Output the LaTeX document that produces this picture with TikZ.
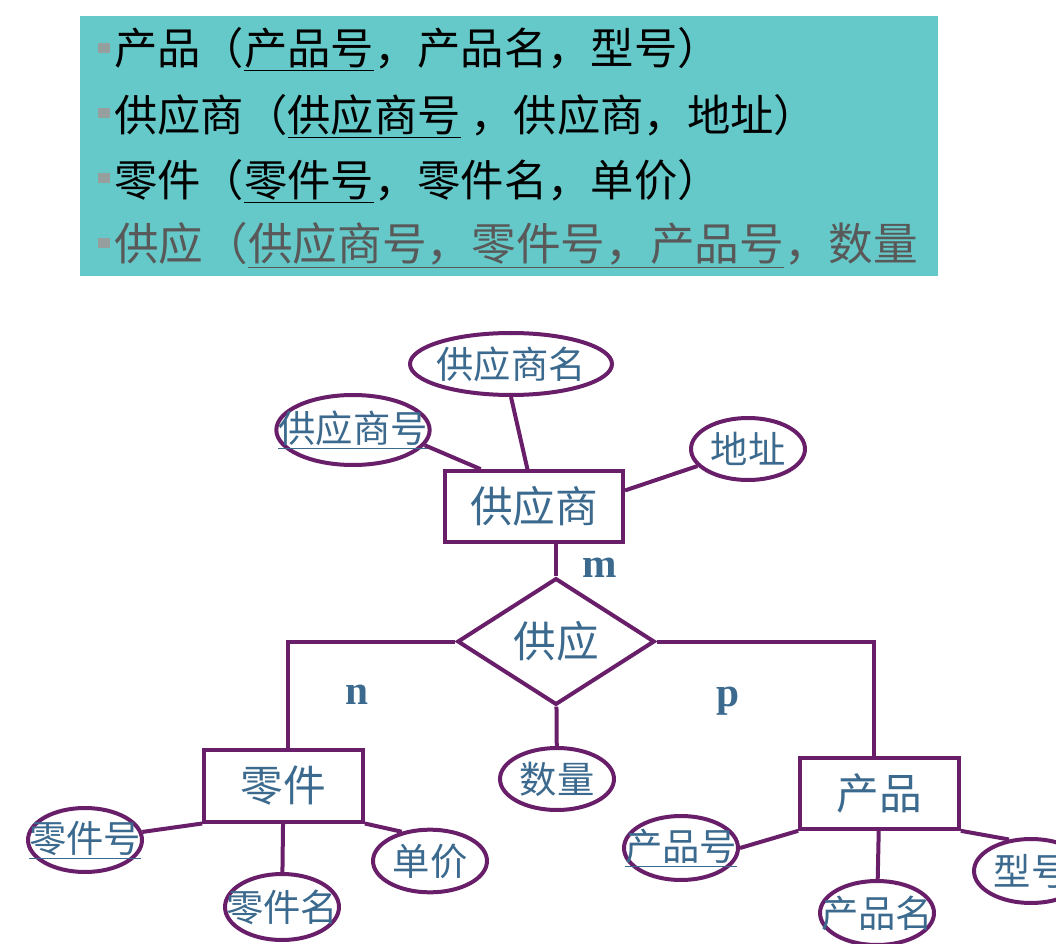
\documentclass[tikz,border=0pt]{standalone}
\usepackage{fontspec}
\setmainfont{Liberation Serif}
\newfontfamily\cjk{Noto Sans CJK SC}
\usepackage{tikz}
\usetikzlibrary{shapes.geometric, positioning}
\definecolor{erpurple}{RGB}{104, 30, 104}
\definecolor{erblue}{RGB}{59, 106, 142}
\definecolor{schemateal}{RGB}{102, 201, 201}
\definecolor{bulletgray}{RGB}{150, 158, 158}

\begin{document}
\begin{tikzpicture}[
    x=0.75pt, y=-0.75pt,
    entity/.style={rectangle, draw=erpurple, line width=3pt, fill=white, inner sep=0pt, minimum width=119pt, minimum height=54pt, font=\cjk\fontsize{32}{36}\selectfont, text=erblue},
    relation/.style={diamond, draw=erpurple, line width=3pt, fill=white, inner sep=0pt, minimum width=148pt, minimum height=95pt},
    attr/.style={ellipse, draw=erpurple, line width=3pt, fill=white, inner sep=0pt, minimum width=85.5pt, minimum height=48pt},
    attrtext/.style={font=\cjk\fontsize{28}{32}\selectfont, text=erblue, inner sep=0pt},
    link/.style={draw=erpurple, line width=3pt},
    card/.style={font=\bfseries\fontsize{31}{34}\selectfont, text=erblue, inner sep=0pt},
    schema/.style={anchor=base west, inner sep=0pt, font=\cjk\fontsize{32.5}{36}\selectfont},
    bullet/.style={rectangle, fill=bulletgray, minimum width=9pt, minimum height=8pt, inner sep=0pt}
]
\useasboundingbox (0,0) rectangle (1056,944);

% relation schemas
\node[rectangle, fill=schemateal, minimum width=643.5pt, minimum height=195pt, inner sep=0pt] (schemabox) at (509,146) {};
\node[schema] (rowProduct) at (114,64.5) {产品（\underline{产品号}，产品名，型号）};
\node[schema] (rowSupplier) at (114,131.5) {供应商（\underline{供应商号} ，供应商，地址）};
\node[schema] (rowPart) at (114,196.5) {零件（\underline{零件号}，零件名，单价）};
\node[schema, text=black!65, font=\cjk\fontsize{33.5}{36}\selectfont] (rowSupply) at (114,260.5) {供应（\underline{供应商号，零件号，产品号}，数量};
\foreach \y/\r in {48/1, 113/2, 178/3, 243/4}
    \node[bullet] (dot\r) at (104,\y) {};

% entities and relationship
\node[entity, minimum width=133.5pt, minimum height=53pt] (supplier) at (534,506.5) {供应商};
\node[entity] (part) at (283.5,785.5) {零件};
\node[entity, minimum height=53pt] (product) at (879.5,793.5) {产品};
\node[relation, label={[attrtext, font=\cjk\fontsize{32}{36}\selectfont]center:供应}] (supply) at (556,641.5) {};

% attributes
\node[attr, minimum width=151.5pt, minimum height=46.5pt, label={[attrtext]center:供应商名}] (sname) at (511,364) {};
\node[attr, minimum width=115pt, minimum height=52.5pt, label={[attrtext]center:\underline{供应商号}}] (sno) at (353,430) {};
\node[attr, minimum height=46.5pt, label={[attrtext]center:地址}] (addr) at (748,449) {};
\node[attr, minimum height=46.5pt, label={[attrtext]center:数量}] (qty) at (557,779) {};
\node[attr, label={[attrtext]center:\underline{零件号}}] (pno) at (85,840) {};
\node[attr, minimum height=49.5pt, label={[attrtext]center:零件名}] (pname) at (282,907) {};
\node[attr, minimum height=47pt, label={[attrtext]center:单价}] (price) at (430,861) {};
\node[attr, label={[attrtext]center:\underline{产品号}}] (prno) at (681,848) {};
\node[attr, label={[attrtext]center:产品名}] (prname) at (877,913) {};
\node[attr, label={[attrtext]center:型号}] (model) at (1031,871) {};

% connectors
\draw[link] (sname.south) -- (supplier.100);
\draw[link] (sno.-12) -- (supplier.145);
\draw[link] (addr) -- (supplier.10);
\draw[link] (supply.north) -- (supply.north |- supplier.south);
\draw[link] (supply.west) -| ([xshift=3pt]part.north);
\draw[link] (supply.east) -| ([xshift=-4pt]product.north);
\draw[link] (supply) -- (qty);
\draw[link] (pno) -- (part.south west);
\draw[link] (part) -- (pname);
\draw[link] (part.south east) -- (price.134);
\draw[link] (prno.east) -- (product.south west);
\draw[link] (product) -- (prname);
\draw[link] (product.south east) -- (model.125);

% cardinalities
\node[card] (cardM) at (600,568) {m};
\node[card] (cardN) at (357,695) {n};
\node[card] (cardP) at (728,701) {p};
\end{tikzpicture}
\end{document}
